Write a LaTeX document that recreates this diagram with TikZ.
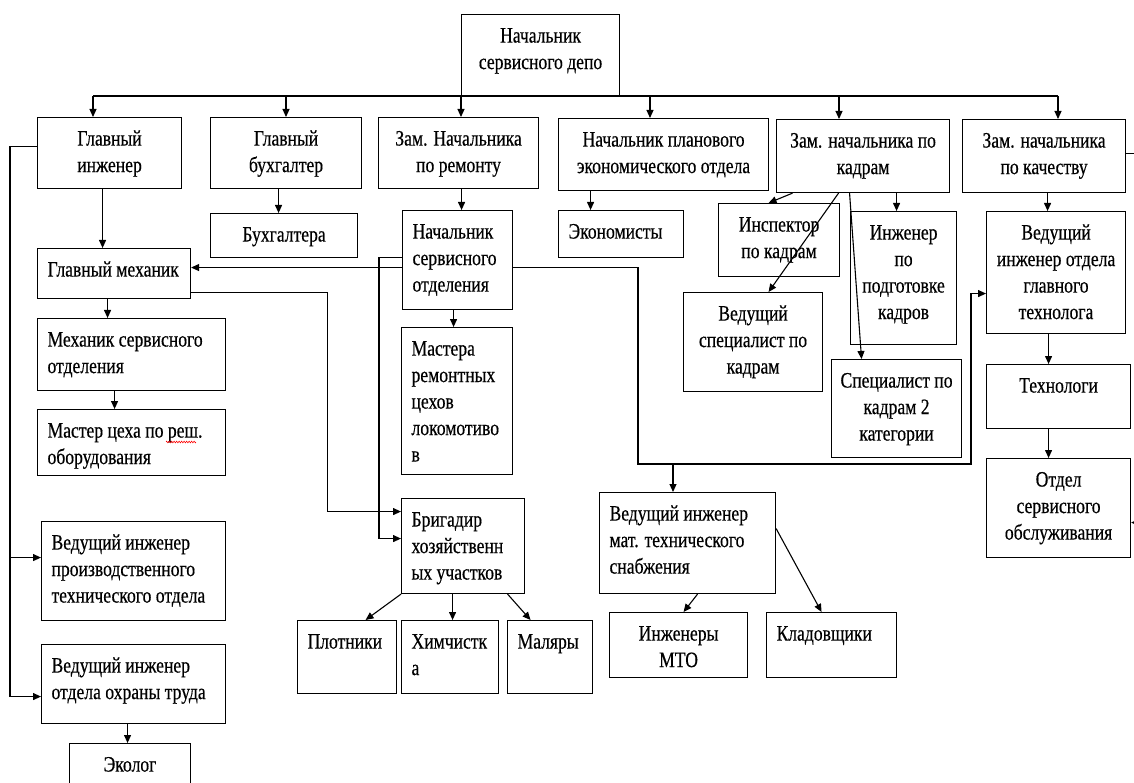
\documentclass[tikz,border=0pt]{standalone}
\usepackage{fontspec}
\setmainfont{Liberation Serif}[FakeStretch=0.8,FakeBold=0.4]
\usetikzlibrary{arrows.meta,decorations.pathmorphing}
\tikzset{
  bx/.style={draw, line width=1.1pt, inner sep=0pt, anchor=north west},
  ln/.style={line width=1.1pt},
  arr/.style={line width=1.1pt, -{Triangle[length=8pt,width=7pt]}}
}
\newcommand\mkbox[7]{%
 \node[bx] (#1) at (#2,#3) {\parbox[c][\dimexpr#5pt-#3pt\relax][t]{\dimexpr#4pt-#2pt\relax}{\fontsize{22}{26.5}\selectfont\hyphenpenalty=10000 \ifx c#6\centering\else\raggedright\leftskip=10pt\fi\rule{0pt}{28pt}#7\par}};}
\begin{document}
\begin{tikzpicture}[x=1pt,y=-1pt]
\fill[white] (0,0) rectangle (1134,783);
\useasboundingbox (0,0) rectangle (1134,783);
% boxes
\mkbox{dep}{461}{14}{619}{95}{c}{Начальник\\сервисного депо}
\mkbox{gi}{37}{117}{181}{188}{c}{Главный\\инженер}
\mkbox{gb}{210}{117}{361}{188}{c}{Главный\\бухгалтер}
\mkbox{zr}{378}{117}{538}{188}{c}{Зам. Начальника\\по ремонту}
\mkbox{np}{558}{118}{768}{190}{c}{Начальник планового\\экономического отдела}
\mkbox{zk}{776}{119}{949}{192}{c}{Зам. начальника по\\кадрам}
\mkbox{zq}{962}{119}{1125}{192}{c}{Зам. начальника\\по качеству}
\mkbox{bu}{210}{213}{357}{257}{c}{Бухгалтера}
\mkbox{gm}{37}{248}{190}{298}{l}{Главный механик}
\mkbox{nso}{402}{210}{512}{309}{l}{Начальник\\сервисного\\отделения}
\mkbox{ek}{558}{210}{683}{257}{l}{Экономисты}
\mkbox{ins}{718}{203}{839}{276}{c}{Инспектор\\по кадрам}
\mkbox{ipk}{850}{211}{956}{344}{c}{Инженер\\по\\подготовке\\кадров}
\mkbox{vsk}{683}{292}{822}{391}{c}{Ведущий\\специалист по\\кадрам}
\mkbox{sk2}{831}{359}{961}{457}{c}{Специалист по\\кадрам 2\\категории}
\mkbox{vgt}{986}{211}{1125}{333}{c}{Ведущий\\инженер отдела\\главного\\технолога}
\mkbox{tech}{986}{364}{1130}{428}{c}{Технологи}
\mkbox{oso}{986}{458}{1130}{557}{c}{Отдел\\сервисного\\обслуживания}
\mkbox{mso}{37}{318}{225}{390}{l}{Механик сервисного\\отделения}
\mkbox{mc}{37}{409}{225}{475}{l}{Мастер цеха по реш.\\оборудования}
\mkbox{mrc}{401}{327}{512}{474}{l}{Мастера\\ремонтных\\цехов\\локомотиво\\в}
\mkbox{vip}{41}{521}{225}{620}{l}{Ведущий инженер\\производственного\\технического отдела}
\mkbox{vio}{41}{644}{225}{723}{l}{Ведущий инженер\\отдела охраны труда}
\mkbox{eko}{69}{743}{190}{800}{c}{Эколог}
\mkbox{brig}{401}{498}{524}{593}{l}{Бригадир\\хозяйственн\\ых участков}
\mkbox{plot}{297}{620}{396}{693}{l}{Плотники}
\mkbox{him}{401}{620}{498}{693}{l}{Химчистк\\а}
\mkbox{mal}{507}{620}{592}{693}{l}{Маляры}
\mkbox{vimts}{599}{492}{775}{593}{l}{Ведущий инженер\\мат. технического\\снабжения}
\mkbox{imto}{609}{612}{747}{677}{c}{Инженеры\\МТО}
\mkbox{klad}{766}{612}{896}{677}{l}{Кладовщики}
% spell-check underline
\draw[red, line width=0.6pt, decorate, decoration={zigzag, amplitude=0.8pt, segment length=2.5pt}] (166,442) -- (196,442);
% top bus
\coordinate (b1) at (93,96);
\coordinate (b2) at (286,96);
\coordinate (b3) at (461,96);
\coordinate (b4) at (650,96);
\coordinate (b5) at (839,96);
\coordinate (b6) at (1058,96);
\draw[ln] (b1) -- (b6);
\draw[arr] (b1) -- (b1 |- gi.north);
\draw[arr] (b2) -- (b2 |- gb.north);
\draw[arr] (b3) -- (b3 |- zr.north);
\draw[arr] (b4) -- (b4 |- np.north);
\draw[arr] (b5) -- (b5 |- zk.north);
\draw[arr] (b6) -- (b6 |- zq.north);
% vertical links
\draw[arr] ([xshift=-7pt]gi.south) -- ([xshift=-11.5pt]gm.north);
\draw[arr] ([xshift=-7.5pt]gb.south) -- ([xshift=-5.5pt]bu.north);
\draw[arr] ([xshift=3pt]zr.south) -- ([xshift=4pt]nso.north);
\draw[arr] ([xshift=-73pt]np.south) -- ([xshift=-30.5pt]ek.north);
\draw[arr] ([xshift=-70.5pt]zk.south) -- ([xshift=-10.5pt]ins.north);
\draw[arr] ([xshift=-24.5pt]zk.south) -- ([xshift=15.5pt]vsk.north);
\draw[arr] ([xshift=-13.5pt]zk.south) -- ([xshift=-35pt]sk2.north);
\draw[arr] ([xshift=33.5pt]zk.south) -- ([xshift=-7pt]ipk.north);
\draw[arr] ([xshift=3.5pt]zq.south) -- ([xshift=-8.5pt]vgt.north);
\draw[arr] ([xshift=-7.5pt]vgt.south) -- ([xshift=-10pt]tech.north);
\draw[arr] ([xshift=-10pt]tech.south) -- ([xshift=-10pt]oso.north);
\draw[arr] ([yshift=2.5pt]zq.east) -- ++(20,0) |- ([yshift=-14.5pt]oso.east);
\draw[arr] ([yshift=6.5pt]gi.west) -- ++(-27,0) |- ([yshift=13.5pt]vip.west);
\draw[arr] ([yshift=6.5pt]gi.west) -- ++(-27,0) |- ([yshift=-12.5pt]vio.west);
\draw[arr] ([xshift=-6.5pt]gm.south) -- ([xshift=-24pt]mso.north);
\draw[arr] ([xshift=-17pt]mso.south) -- ([xshift=-17pt]mc.north);
\draw[arr] ([xshift=-6pt]vio.south) -- ([xshift=-2.5pt]eko.north);
\draw[arr] ([xshift=-4pt]nso.south) -- ([xshift=-3.5pt]mrc.north);
% cross links
\draw[arr] ([yshift=-7.5pt]nso.west) -- ([yshift=6pt]gm.east);
\draw[arr] ([yshift=2.5pt]nso.west) -- ++(-23,0) |- ([yshift=7.5pt]brig.west);
\draw[arr] ([yshift=-19pt]gm.east) -- ++(136,0) |- ([yshift=34.5pt]brig.west);
\coordinate (j0) at (638,464);
\coordinate (j1) at (971,464);
\coordinate (j2) at (673,464);
\draw[arr] ([yshift=-7.5pt]nso.east) -| (j0) -- (j1) |- ([yshift=-21pt]vgt.west);
\draw[arr] (j2) -- (j2 |- vimts.north);
% brigadir children
\draw[arr] (brig.south west) -- ([xshift=18.5pt]plot.north);
\draw[arr] ([xshift=-10.5pt]brig.south) -- ([xshift=2.5pt]him.north);
\draw[arr] ([xshift=44.5pt]brig.south) -- ([xshift=-19.5pt]mal.north);
% MTS children
\draw[arr] ([xshift=10pt]vimts.south) -- ([xshift=5pt]imto.north);
\draw[arr] ([yshift=14.5pt]vimts.east) -- ([xshift=-10pt]klad.north);
\end{tikzpicture}
\end{document}
